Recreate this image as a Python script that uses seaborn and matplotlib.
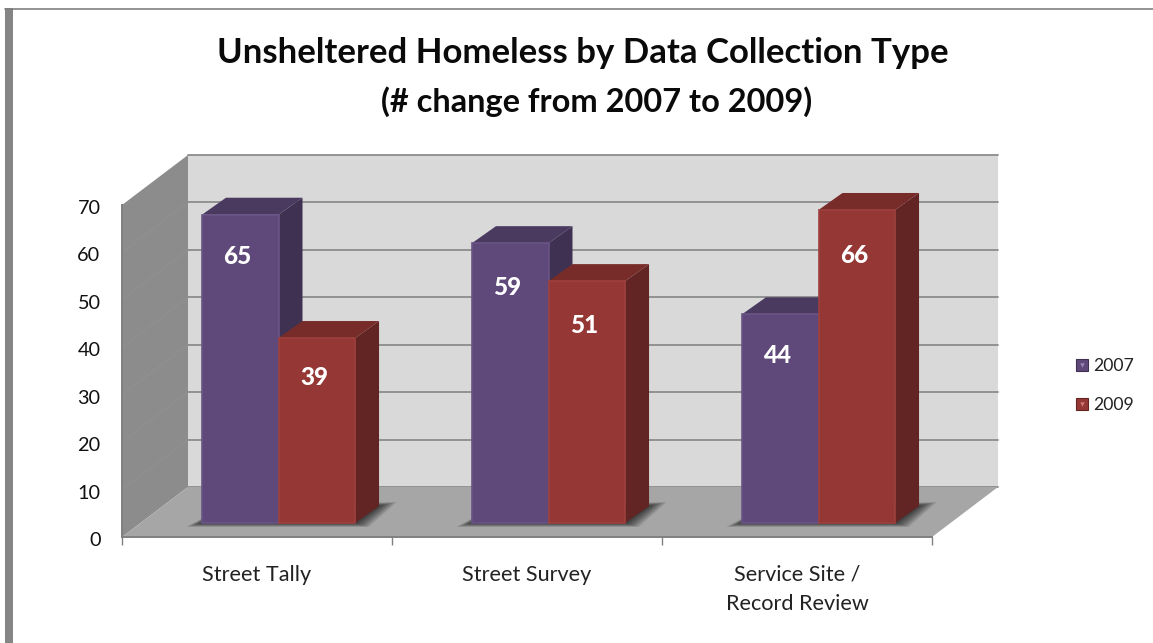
import numpy as np
import pandas as pd
import matplotlib
matplotlib.use("Agg")
import matplotlib.pyplot as plt
from matplotlib.patches import Polygon, Rectangle
from matplotlib.lines import Line2D
from matplotlib.legend_handler import HandlerTuple
from matplotlib.transforms import IdentityTransform, Affine2D
import seaborn as sns

categories = ["Street Tally", "Street Survey", "Service Site /\nRecord Review"]
years = ["2007", "2009"]
values_2007 = [65, 59, 44]
values_2009 = [39, 51, 66]
y_ticks = [0, 10, 20, 30, 40, 50, 60, 70]
title_main = "Unsheltered Homeless by Data Collection Type"
title_sub = "(# change from 2007 to 2009)"

W, H = 1153, 643
WALL_DX, WALL_DY = 66, 50     # offset of the back wall from the front plane
BAR_DX, BAR_DY = 21.5, 14     # offset of the bar bases from the front plane
DEPTH_DX, DEPTH_DY = 24, 17   # bar depth as drawn in oblique projection

front = {"2007": "#5F497A", "2009": "#953735"}
side = {"2007": "#3F3151", "2009": "#632523"}
top = {"2007": "#4A3A60", "2009": "#772C2A"}
edge = {"2007": "#6A5486", "2009": "#9E403E"}
marker_tip = {"2007": "#9A86B8", "2009": "#D07A78"}
GRID = "#8C8C8C"

sns.set_theme(style="white")
plt.rcParams["font.family"] = ["Lato", "DejaVu Sans"]

df = pd.DataFrame({
    "category": categories * 2,
    "year": [years[0]] * 3 + [years[1]] * 3,
    "value": values_2007 + values_2009,
})

fig = plt.figure(figsize=(W / 100, H / 100), dpi=100, facecolor="white")
ax = fig.add_axes([122 / W, (H - 537) / H, 810 / W, 332 / H])
ax.patch.set_visible(False)

sns.barplot(data=df, x="category", y="value", hue="year", hue_order=years,
            palette=front, width=0.567, gap=0, saturation=1, legend=False, ax=ax)
ax.set_xlim(-0.5, 2.5)
ax.set_ylim(0, 70)
ax.set_xlabel("")
ax.set_ylabel("")


def proj(x, y, ox=0.0, oy=0.0):
    px, py = ax.transData.transform((x, y))
    return px + ox, py + oy


def face(points, color, z, **kw):
    ax.add_patch(Polygon(points, closed=True, facecolor=color, edgecolor=kw.pop("ec", "none"),
                         lw=kw.pop("lw", 0), transform=IdentityTransform(),
                         clip_on=False, zorder=z, **kw))


def line(p, q, color, lw, z):
    ax.add_line(Line2D([p[0], q[0]], [p[1], q[1]], color=color, lw=lw,
                       transform=IdentityTransform(), clip_on=False, zorder=z))


x0, x1 = ax.get_xlim()
y0, y1 = ax.get_ylim()

# Back wall, side wall and floor of the oblique box
face([proj(x0, y0, WALL_DX, WALL_DY), proj(x1, y0, WALL_DX, WALL_DY),
      proj(x1, y1, WALL_DX, WALL_DY), proj(x0, y1, WALL_DX, WALL_DY)], "#D9D9D9", 0.5)
for v in y_ticks:
    line(proj(x0, v, WALL_DX, WALL_DY), proj(x1, v, WALL_DX, WALL_DY), GRID, 1.3, 0.6)
face([proj(x0, y0), proj(x0, y0, WALL_DX, WALL_DY),
      proj(x0, y1, WALL_DX, WALL_DY), proj(x0, y1)], "#8C8C8C", 0.7)
for v in y_ticks[1:-1]:
    line(proj(x0, v), proj(x0, v, WALL_DX, WALL_DY), "#929292", 0.6, 0.75)
face([proj(x0, y0), proj(x1, y0), proj(x1, y0, WALL_DX, WALL_DY),
      proj(x0, y0, WALL_DX, WALL_DY)], "#A6A6A6", 0.8)

n = len(categories)
bars = list(ax.patches)[:2 * n]

# Soft shadow under each pair of bars
for c in range(n):
    left, right = bars[c], bars[c + n]
    xl, yb = proj(left.get_x(), 0, BAR_DX, BAR_DY)
    xr, _ = proj(right.get_x() + right.get_width(), 0, BAR_DX, BAR_DY)
    for t in np.linspace(1, 0.05, 18) ** 1.4:
        face([(xl - 16 * t, yb - 4 * t), (xr + 14 * t, yb - 4 * t),
              (xr + DEPTH_DX + 18 * t, yb + DEPTH_DY + 4 * t),
              (xl + DEPTH_DX, yb + DEPTH_DY)], "#2A2A2A", 0.9, alpha=0.085)

# Bars: side and top faces go behind the front face seaborn drew
offset = Affine2D().translate(BAR_DX, BAR_DY)
label_drop = [42, 44, 41, 39, 44, 46]
for i, bar in enumerate(bars):
    year = years[i // n]
    xa, xb = bar.get_x(), bar.get_x() + bar.get_width()
    h = bar.get_height()
    z = 2 + i % n * 3 + (i // n) * 1.0
    face([proj(xb, 0, BAR_DX, BAR_DY), proj(xb, 0, BAR_DX + DEPTH_DX, BAR_DY + DEPTH_DY),
          proj(xb, h, BAR_DX + DEPTH_DX, BAR_DY + DEPTH_DY), proj(xb, h, BAR_DX, BAR_DY)],
         side[year], z)
    face([proj(xa, h, BAR_DX, BAR_DY), proj(xb, h, BAR_DX, BAR_DY),
          proj(xb, h, BAR_DX + DEPTH_DX, BAR_DY + DEPTH_DY),
          proj(xa, h, BAR_DX + DEPTH_DX, BAR_DY + DEPTH_DY)], top[year], z)
    bar.set_transform(ax.transData + offset)
    bar.set_clip_on(False)
    bar.set_zorder(z + 0.2)
    bar.set_edgecolor(edge[year])
    bar.set_linewidth(1.2)
    ax.annotate(f"{h:.0f}", xy=((xa + xb) / 2, h), xycoords="data",
                xytext=(BAR_DX * 0.72 - 2, (BAR_DY - label_drop[i]) * 0.72), textcoords="offset points",
                ha="center", va="center", color="white", fontweight="black", fontsize=17.5,
                annotation_clip=False, zorder=z + 0.4)

# Axes furniture
sns.despine(ax=ax, top=True, right=True)
for s in ("left", "bottom"):
    ax.spines[s].set_color("#808080")
    ax.spines[s].set_linewidth(1.4)
    ax.spines[s].set_zorder(1)
ax.set_yticks(y_ticks)
ax.tick_params(axis="y", length=4.5, width=1.4, color="#808080", pad=11,
               labelsize=14.3, labelcolor="#111111")
for lab in ax.get_yticklabels():
    lab.set_transform(lab.get_transform() + Affine2D().translate(0, -2))
ax.set_xticks(range(n))
ax.set_xticklabels(categories, linespacing=1.55)
ax.set_xticks([x0 + k for k in range(n + 1)], minor=True)
ax.tick_params(axis="x", which="major", length=0, pad=20, labelsize=15.6, labelcolor="#222222")
ax.tick_params(axis="x", which="minor", length=6, width=1.0, color="#808080", bottom=True)
for lab in ax.get_xticklabels():
    lab.set_verticalalignment("top")

# Legend swatches carry a small light notch at the top
handles = [(Line2D([], [], ls="", marker="s", ms=8.6, mfc=front[y], mec=side[y], mew=0.8),
            Line2D([], [], ls="", marker="v", ms=3.2, mfc=marker_tip[y], mec="none"))
           for y in years]
fig.legend(handles, years, handler_map={tuple: HandlerTuple(ndivide=1, pad=0)},
           loc="center left", bbox_to_anchor=(1073 / W, 1 - 385.5 / H), frameon=False,
           fontsize=12.7, labelspacing=1.32, handlelength=1.03, handletextpad=0.12,
           labelcolor="#222222", borderpad=0, borderaxespad=0)

# Two-line heading; the second line sits slightly right of the first
fig.suptitle(title_main, x=583 / W, y=1 - 37 / H, va="top", ha="center",
             fontsize=25, fontweight="bold", color="#0a0a0a")
fig.text(597 / W, 1 - 86 / H, title_sub, va="top", ha="center",
         fontsize=23.4, fontweight="bold", color="#0a0a0a")

# Page frame around the slide
fig.add_artist(Rectangle((5 / W, 0), 8 / W, (H - 8) / H, transform=fig.transFigure,
                         facecolor="#858585", edgecolor="none"))
fig.add_artist(Line2D([5 / W, 1], [1 - 8.5 / H] * 2, transform=fig.transFigure,
                      color="#808080", lw=1.2))

fig.savefig("out.png", dpi=100)
